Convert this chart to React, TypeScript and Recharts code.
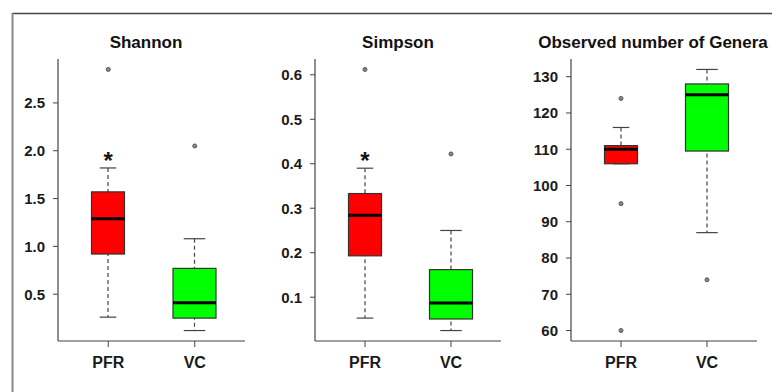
import { ComposedChart, Bar, Scatter, XAxis, YAxis } from 'recharts';

const FONT = '"Liberation Sans", Arial, Helvetica, sans-serif';

const GROUPS = ['PFR', 'VC'];

// [lower whisker, Q1, median, Q3, upper whisker] per group
const shannonStats = [
  [0.26, 0.92, 1.29, 1.57, 1.82],
  [0.12, 0.25, 0.41, 0.77, 1.08],
];
const shannonOutliers = [[2.85], [2.05]];
const shannonStars = [1.95, null];
const shannonTicks = [0.5, 1.0, 1.5, 2.0, 2.5];

const simpsonStats = [
  [0.053, 0.193, 0.284, 0.333, 0.39],
  [0.025, 0.051, 0.087, 0.162, 0.25],
];
const simpsonOutliers = [[0.612], [0.422]];
const simpsonStars = [0.417, null];
const simpsonTicks = [0.1, 0.2, 0.3, 0.4, 0.5, 0.6];

const generaStats = [
  [106, 106, 110, 111, 116],
  [87, 109.5, 125, 128, 132],
];
const generaOutliers = [[124, 95, 60], [74]];
const generaStars = [null, null];
const generaTicks = [60, 70, 80, 90, 100, 110, 120, 130];

const COLORS: Record<string, string> = { PFR: '#FF0000', VC: '#00FF00' };
const BOX_W: Record<string, number> = { PFR: 33, VC: 43 };
const LINE = '#444';

const buildRows = (stats: number[][], outliers: number[][], stars: (number | null)[]) =>
  GROUPS.map((g, i) => ({
    name: g,
    whisker: [stats[i][0], stats[i][4]],
    box: [stats[i][1], stats[i][3]],
    q1: stats[i][1],
    med: stats[i][2],
    q3: stats[i][3],
    out1: outliers[i][0] ?? null,
    out2: outliers[i][1] ?? null,
    out3: outliers[i][2] ?? null,
    star: stars[i],
  }));

// R style axis extension: 4% on each side of the data range
const padDomain = (stats: number[][], outliers: number[][]) => {
  const all = [...stats.flat(), ...outliers.flat()];
  const lo = Math.min(...all);
  const hi = Math.max(...all);
  const d = (hi - lo) * 0.04;
  return [lo - d, hi + d];
};

const Whisker = (props: any) => {
  const { x, y, width, height, payload } = props;
  const cx = x + width / 2;
  const cap = BOX_W[payload.name] / 4;
  return (
    <g>
      <line x1={cx} x2={cx} y1={y} y2={y + height} stroke={LINE} strokeWidth={1.2} strokeDasharray="4 3" />
      <line x1={cx - cap} x2={cx + cap} y1={y} y2={y} stroke={LINE} strokeWidth={1.2} />
      <line x1={cx - cap} x2={cx + cap} y1={y + height} y2={y + height} stroke={LINE} strokeWidth={1.2} />
    </g>
  );
};

const Box = (props: any) => {
  const { x, y, width, height, payload } = props;
  const cx = x + width / 2;
  const w = BOX_W[payload.name];
  const medY = y + (height * (payload.q3 - payload.med)) / (payload.q3 - payload.q1);
  return (
    <g>
      <rect x={cx - w / 2} y={y} width={w} height={height} fill={COLORS[payload.name]} stroke="#333" strokeWidth={1.2} />
      <line x1={cx - w / 2} x2={cx + w / 2} y1={medY} y2={medY} stroke="#000" strokeWidth={3} />
    </g>
  );
};

const makeOutlier = (key: string) => (props: any) => {
  const { cx, cy, payload } = props;
  if (payload == null || payload[key] == null || !isFinite(cy)) return <g />;
  return <circle cx={cx} cy={cy} r={2} fill="#888" stroke="#555" strokeWidth={1} />;
};

const Star = (props: any) => {
  const { cx, cy, payload } = props;
  if (payload == null || payload.star == null || !isFinite(cy)) return <g />;
  return (
    <text x={cx} y={cy + 13} textAnchor="middle" fontSize={24} fontWeight={700} fontFamily={FONT} fill="#111">
      *
    </text>
  );
};

type PanelProps = {
  left: number;
  plotWidth: number;
  stats: number[][];
  outliers: number[][];
  stars: (number | null)[];
  ticks: number[];
  fmt: (v: number) => string;
};

const BoxPanel = ({ left, plotWidth, stats, outliers, stars, ticks, fmt }: PanelProps) => {
  const rows = buildRows(stats, outliers, stars);
  const domain = padDomain(stats, outliers);
  return (
    <div style={{ position: 'absolute', left, top: 0 }}>
      <ComposedChart
        width={58 + plotWidth + 4}
        height={392}
        data={rows}
        margin={{ top: 59, right: 4, bottom: 11, left: 0 }}
        barSize={44}
        barGap={-44}
      >
        <XAxis
          dataKey="name"
          type="category"
          padding={{ left: 7, right: 7 }}
          height={40}
          interval={0}
          axisLine={{ stroke: LINE, strokeWidth: 1.2 }}
          tickLine={{ stroke: LINE }}
          tickSize={6}
          tickMargin={10}
          tick={{ fontSize: 16, fontWeight: 700, fill: '#1a1a1a', fontFamily: FONT }}
        />
        <XAxis
          xAxisId="top"
          dataKey="name"
          orientation="top"
          height={0}
          tick={false}
          tickLine={false}
          axisLine={{ stroke: LINE, strokeWidth: 1.2 }}
        />
        <YAxis
          type="number"
          domain={domain}
          ticks={ticks}
          allowDataOverflow
          width={58}
          axisLine={{ stroke: LINE, strokeWidth: 1.2 }}
          tickLine={{ stroke: LINE }}
          tickSize={5}
          tickMargin={8}
          tickFormatter={fmt}
          tick={{ fontSize: 15, fontWeight: 700, fill: '#1a1a1a', fontFamily: FONT }}
        />
        <YAxis
          yAxisId="right"
          orientation="right"
          width={0}
          domain={domain}
          tick={false}
          tickLine={false}
          axisLine={{ stroke: LINE, strokeWidth: 1.2 }}
        />
        <Bar dataKey="whisker" shape={Whisker} isAnimationActive={false} />
        <Bar dataKey="box" shape={Box} isAnimationActive={false} />
        <Scatter dataKey="out1" shape={makeOutlier('out1')} isAnimationActive={false} />
        <Scatter dataKey="out2" shape={makeOutlier('out2')} isAnimationActive={false} />
        <Scatter dataKey="out3" shape={makeOutlier('out3')} isAnimationActive={false} />
        <Scatter dataKey="star" shape={Star} isAnimationActive={false} />
      </ComposedChart>
    </div>
  );
};

const TITLES = [
  { text: 'Shannon', x: 146 },
  { text: 'Simpson', x: 398 },
  { text: 'Observed number of Genera', x: 653 },
];

export default function App() {
  return (
    <div style={{ position: 'absolute', left: 0, top: 0, width: 772, height: 392, background: '#fff', overflow: 'hidden' }}>
      <BoxPanel left={0} plotWidth={187} stats={shannonStats} outliers={shannonOutliers} stars={shannonStars} ticks={shannonTicks} fmt={(v) => v.toFixed(1)} />
      <BoxPanel left={257} plotWidth={186} stats={simpsonStats} outliers={simpsonOutliers} stars={simpsonStars} ticks={simpsonTicks} fmt={(v) => v.toFixed(1)} />
      <BoxPanel left={513} plotWidth={186} stats={generaStats} outliers={generaOutliers} stars={generaStars} ticks={generaTicks} fmt={(v) => String(v)} />
      <svg width={772} height={392} style={{ position: 'absolute', left: 0, top: 0, pointerEvents: 'none' }}>
        <line x1={12} x2={772} y1={13.5} y2={13.5} stroke="#444" strokeWidth={1.5} />
        <line x1={12.5} x2={12.5} y1={13} y2={392} stroke="#888" strokeWidth={2} />
        {TITLES.map((t) => (
          <text key={t.text} x={t.x} y={48} textAnchor="middle" fontSize={17} fontWeight={700} fontFamily={FONT} fill="#111">
            {t.text}
          </text>
        ))}
      </svg>
    </div>
  );
}
